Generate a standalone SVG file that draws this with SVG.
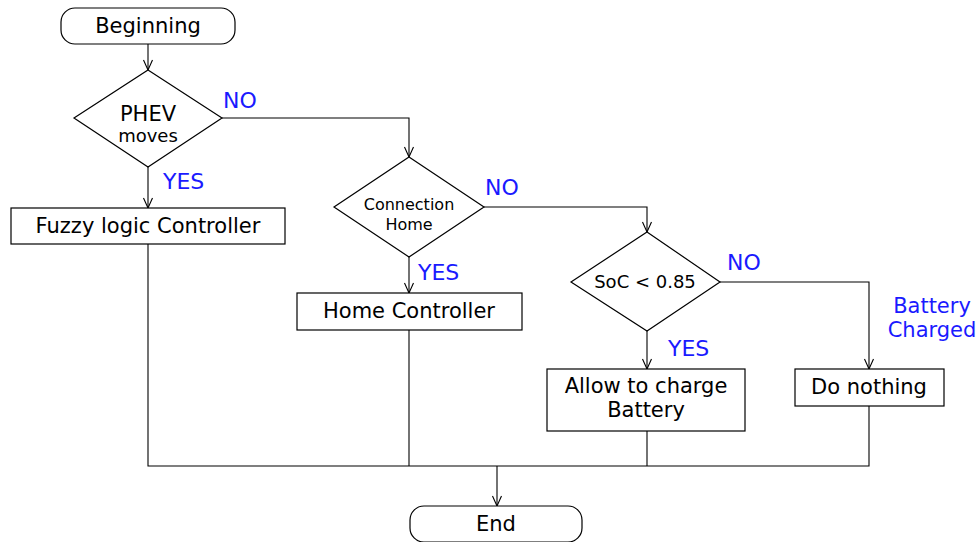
<svg xmlns="http://www.w3.org/2000/svg" width="978" height="542" viewBox="0 0 978 542">
<style>
.n{fill:#fff;stroke:#000;stroke-width:1.2}
.t{font-family:"DejaVu Sans",sans-serif;font-size:21px;fill:#000;text-anchor:middle}
.s{font-size:16px}
.l{font-family:"DejaVu Sans",sans-serif;font-size:22px;fill:#1a1aff}
.c{fill:none;stroke:#000;stroke-width:1.1}
</style>
<defs>
<marker id="a" markerWidth="12" markerHeight="12" refX="0" refY="0" viewBox="-11 -6 12 12" orient="auto" markerUnits="userSpaceOnUse">
<path d="M-10,-4.5 L0,0 L-10,4.5" fill="none" stroke="#000" stroke-width="1.1"/>
</marker>
</defs>
<g id="connectors">
<path class="c" d="M148,44 V70" marker-end="url(#a)"/>
<path class="c" d="M222,118 H409 V157" marker-end="url(#a)"/>
<path class="c" d="M148,167 V208" marker-end="url(#a)"/>
<path class="c" d="M484,207 H647 V232" marker-end="url(#a)"/>
<path class="c" d="M409,257 V293" marker-end="url(#a)"/>
<path class="c" d="M720,282 H869 V369" marker-end="url(#a)"/>
<path class="c" d="M647,331 V369" marker-end="url(#a)"/>
<path class="c" d="M148,244 V466 H869 V406"/>
<path class="c" d="M409,330 V466"/>
<path class="c" d="M647,431 V466"/>
<path class="c" d="M497,466 V506" marker-end="url(#a)"/>
<text class="l" x="223" y="108">NO</text>
<text class="l" x="163" y="189">YES</text>
<text class="l" x="485" y="195">NO</text>
<text class="l" x="418" y="280">YES</text>
<text class="l" x="727" y="270">NO</text>
<text class="l" x="668" y="356">YES</text>
<text class="l" x="932" y="313" text-anchor="middle" style="font-size:21px">Battery</text>
<text class="l" x="932" y="337" text-anchor="middle" style="font-size:21px">Charged</text>
</g>
<g id="begin">
<rect class="n" x="61" y="8" width="174" height="36" rx="14"/>
<text class="t" x="148" y="33">Beginning</text>
</g>
<g id="phev">
<polygon class="n" points="148,70 222,118 148,167 74,118"/>
<text class="t" x="148" y="121" style="font-size:21px">PHEV</text>
<text class="t" x="148" y="142" style="font-size:18px">moves</text>
</g>
<g id="fuzzy">
<rect class="n" x="11" y="208" width="274" height="36"/>
<text class="t" x="148" y="233">Fuzzy logic Controller</text>
</g>
<g id="conn">
<polygon class="n" points="409,157 484,207 409,257 334,207"/>
<text class="t s" x="409" y="210">Connection</text>
<text class="t s" x="409" y="230">Home</text>
</g>
<g id="home">
<rect class="n" x="297" y="293" width="225" height="37"/>
<text class="t" x="409" y="318">Home Controller</text>
</g>
<g id="soc">
<polygon class="n" points="647,232 720,282 647,331 571,282"/>
<text class="t" x="645" y="288" style="font-size:18px">SoC &lt; 0.85</text>
</g>
<g id="allow">
<rect class="n" x="547" y="369" width="198" height="62"/>
<text class="t" x="646" y="393">Allow to charge</text>
<text class="t" x="646" y="417">Battery</text>
</g>
<g id="nothing">
<rect class="n" x="795" y="369" width="149" height="37"/>
<text class="t" x="869" y="394">Do nothing</text>
</g>
<g id="end">
<rect class="n" x="410" y="506" width="172" height="36" rx="14"/>
<text class="t" x="496" y="531">End</text>
</g>
</svg>
